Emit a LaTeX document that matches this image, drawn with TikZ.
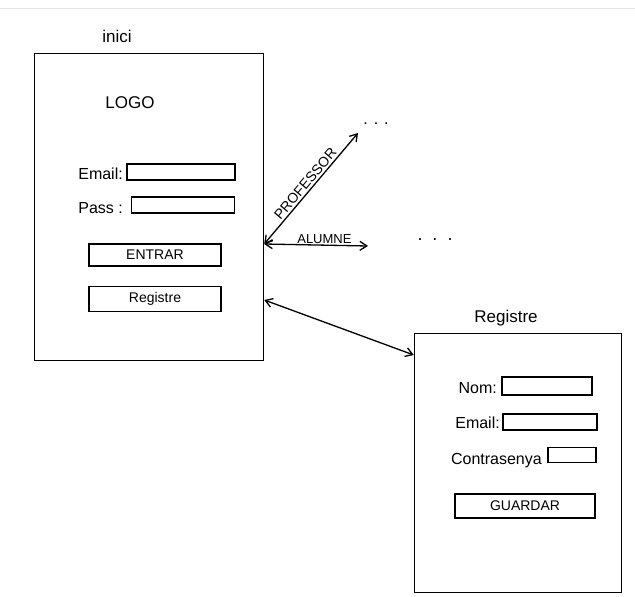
\documentclass[tikz,border=0pt]{standalone}
\usepackage{fontspec}
\setmainfont{Liberation Sans}
\usetikzlibrary{arrows.meta}
\begin{document}
\begin{tikzpicture}[x=1pt,y=-1pt,
  screen/.style={draw, line width=1.5pt, inner sep=0pt},
  field/.style={draw, line width=1.3pt, inner sep=0pt},
  lbl/.style={font=\fontsize{16}{17}\selectfont, inner sep=1pt},
  btn/.style={field, font=\fontsize{14}{15}\selectfont},
  conn/.style={line width=1.3pt, {Straight Barb[length=7pt,width=9pt]}-{Straight Barb[length=7pt,width=9pt]}}
]
\useasboundingbox (0,0) rectangle (635,597);
\fill[white] (0,0) rectangle (635,597);
\draw[gray!20, line width=1pt] (0,8) -- (635,8);

% left screen
\node[screen, minimum width=229pt, minimum height=307pt] (inici) at (149,207) {};
\node[lbl, font=\fontsize{17}{18}\selectfont] (tinici) at (117,36) {inici};
\node[lbl, font=\fontsize{17}{18}\selectfont] (logo) at (130,103) {LOGO};
\node[lbl, anchor=east] (lemail) at (124,174) {Email:};
\node[field, minimum width=108pt, minimum height=16pt] (femail) at (181,172) {};
\node[lbl, anchor=east] (lpass) at (124,208) {Pass :};
\node[field, minimum width=103pt, minimum height=16pt] (fpass) at (183,205) {};
\node[btn, minimum width=132pt, minimum height=22pt] (entrar) at (155,255) {ENTRAR};
\node[btn, minimum width=132pt, minimum height=25pt] (breg) at (155,299) {Registre};

% right screen
\node[screen, minimum width=207pt, minimum height=259pt] (reg) at (518,463) {};
\node[lbl, font=\fontsize{17}{18}\selectfont] (treg) at (506,318) {Registre};
\node[lbl, anchor=east] (lnom) at (498,388) {Nom:};
\node[field, minimum width=90pt, minimum height=18pt] (fnom) at (547,386) {};
\node[lbl, anchor=east] (lemail2) at (501,423) {Email:};
\node[field, minimum width=94pt, minimum height=16pt] (femail2) at (550,422) {};
\node[lbl, anchor=east] (lpw) at (543,461) {Contrasenya};
\node[field, minimum width=48pt, minimum height=15pt] (fpw) at (572,455) {};
\node[btn, minimum width=140pt, minimum height=24pt] (guardar) at (525,506) {GUARDAR};

% connectors
\coordinate (hub) at ([yshift=-37pt]inici.east);
\coordinate (profend) at (358,133);
\coordinate (alumend) at (368,246);
\draw[conn] (hub) -- (profend) node[pos=0.5, sloped, above, inner sep=2pt, font=\fontsize{14}{15}\selectfont] (tprof) {PROFESSOR};
\draw[conn] (hub) -- (alumend) node[pos=0.58, above, inner sep=1pt, font=\fontsize{13}{14}\selectfont] (talum) {ALUMNE};
\node[lbl] (dots1) at (376,124) {. . .};
\node[font=\fontsize{18}{18}\selectfont] (dots2) at (435,240) {.\ \ .\ \ .};
\draw[conn] ([yshift=-93pt]inici.east) -- ([yshift=108pt]reg.west);
\end{tikzpicture}
\end{document}
